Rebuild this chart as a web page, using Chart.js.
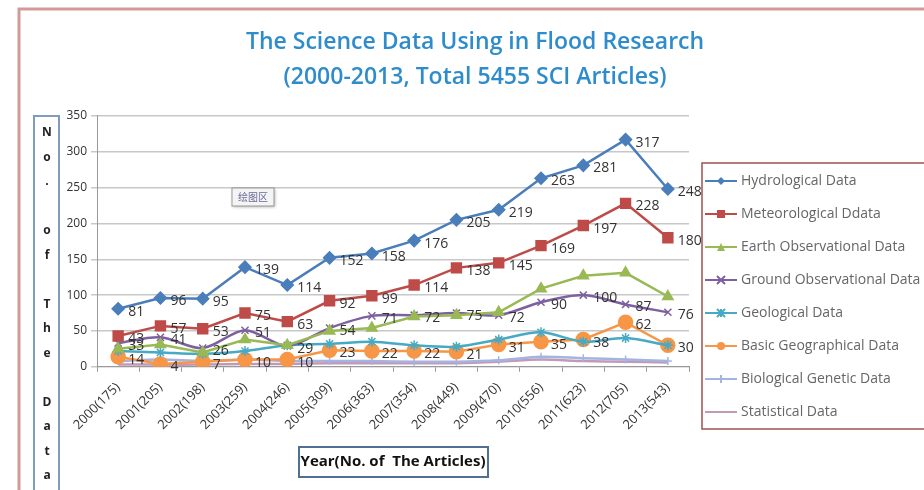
<!DOCTYPE html>
<html>
<head>
<meta charset="utf-8">
<script src="https://cdn.jsdelivr.net/npm/chart.js@4"></script>
<style>
  html, body { margin: 0; padding: 0; background: #fff; }
  #wrap { width: 924px; height: 490px; }
</style>
</head>
<body>
<div id="wrap"><canvas id="flood" width="924" height="490"></canvas></div>
<script>
  const years = ['2000(175)', '2001(205)', '2002(198)', '2003(259)', '2004(246)', '2005(309)', '2006(363)',
    '2007(354)', '2008(449)', '2009(470)', '2010(556)', '2011(623)', '2012(705)', '2013(543)'];

  const hydrological = [81, 96, 95, 139, 114, 152, 158, 176, 205, 219, 263, 281, 317, 248];
  const meteorological = [43, 57, 53, 75, 63, 92, 99, 114, 138, 145, 169, 197, 228, 180];
  const earthObs = [25, 31, 20, 38, 30, 50, 54, 70, 72, 76, 109, 127, 131, 98];
  const groundObs = [33, 41, 26, 51, 29, 54, 71, 72, 75, 72, 90, 100, 87, 76];
  const geological = [22, 20, 18, 22, 30, 32, 35, 30, 28, 38, 48, 35, 40, 30];
  const basicGeo = [14, 4, 7, 10, 10, 23, 22, 22, 21, 31, 35, 38, 62, 30];
  const biological = [8, 10, 8, 10, 8, 8, 8, 7, 7, 9, 14, 12, 10, 8];
  const statistical = [3, 3, 3, 4, 4, 5, 5, 5, 5, 7, 10, 8, 7, 6];

  const yTicks = [0, 50, 100, 150, 200, 250, 300, 350];

  const font = "'Open Sans', 'Liberation Sans', sans-serif";

  // series that carry value labels in the original
  const labelled = [0, 1, 3, 5];

  function legendIcon(color, style, r) {
    const c = document.createElement('canvas');
    c.width = 32; c.height = 14;
    const g = c.getContext('2d');
    g.strokeStyle = color; g.lineWidth = 2;
    g.beginPath(); g.moveTo(0, 7); g.lineTo(32, 7); g.stroke();
    if (style) {
      g.fillStyle = color;
      g.beginPath();
      if (style === 'rectRot') { g.moveTo(16, 7 - r); g.lineTo(16 + r, 7); g.lineTo(16, 7 + r); g.lineTo(16 - r, 7); g.closePath(); g.fill(); }
      else if (style === 'rect') { g.fillRect(16 - r, 7 - r, 2 * r, 2 * r); }
      else if (style === 'triangle') { g.moveTo(16, 7 - r); g.lineTo(16 + r, 7 + r); g.lineTo(16 - r, 7 + r); g.closePath(); g.fill(); }
      else if (style === 'circle') { g.arc(16, 7, r, 0, Math.PI * 2); g.fill(); }
      else if (style === 'crossRot') { g.moveTo(16 - r, 7 - r); g.lineTo(16 + r, 7 + r); g.moveTo(16 + r, 7 - r); g.lineTo(16 - r, 7 + r); g.stroke(); }
      else if (style === 'star') { g.moveTo(16 - r, 7 - r); g.lineTo(16 + r, 7 + r); g.moveTo(16 + r, 7 - r); g.lineTo(16 - r, 7 + r); g.moveTo(16, 7 - r); g.lineTo(16, 7 + r); g.stroke(); }
      else if (style === 'cross') { g.moveTo(16, 7 - r); g.lineTo(16, 7 + r); g.stroke(); }
    }
    return c;
  }

  function series(label, data, color, style, r, tension) {
    return {
      label: label, data: data,
      borderColor: color, backgroundColor: color,
      borderWidth: 2.5,
      pointStyle: style || false, pointRadius: style ? r : 0,
      pointBorderColor: color, pointBackgroundColor: color, pointBorderWidth: 1.5,
      tension: tension || 0,
      legendIcon: legendIcon(color, style, Math.min(r, 4))
    };
  }

  const chartFrame = {
    id: 'chartFrame',
    beforeDraw(chart) {
      const g = chart.ctx;
      g.save();
      g.strokeStyle = '#d49a9a'; g.lineWidth = 3;
      g.strokeRect(19, 9, 930, 500);
      g.restore();
    },
    afterDraw(chart) {
      const g = chart.ctx;
      g.save();
      // stacked y-axis caption
      g.strokeStyle = '#7f9cbf'; g.lineWidth = 2;
      g.strokeRect(34, 116, 25, 400);
      g.fillStyle = '#222'; g.font = 'bold 12px ' + font;
      g.textAlign = 'center'; g.textBaseline = 'middle';
      'No. of The Data'.split('').forEach(function (ch, i) {
        g.fillText(ch, 47, 133 + i * 24.5);
      });
      // x-axis caption box
      const xs = chart.scales.x;
      const cx = (xs.left + xs.right) / 2;
      g.strokeStyle = '#4f6f93'; g.lineWidth = 2;
      g.strokeRect(cx - 94, 447, 189, 30);
      // legend box
      const hb = chart.legend.legendHitBoxes;
      const top = hb[0].top - 11;
      const bottom = hb[hb.length - 1].top + hb[hb.length - 1].height + 10;
      const left = hb[0].left - 6;
      g.strokeStyle = '#a05050'; g.lineWidth = 1.5;
      g.strokeRect(left, top, 930 - left, bottom - top);
      // "plot area" tag
      g.fillStyle = '#f4f4f4'; g.strokeStyle = '#999'; g.lineWidth = 1;
      g.shadowColor = 'rgba(0,0,0,0.3)'; g.shadowBlur = 3; g.shadowOffsetX = 1; g.shadowOffsetY = 1;
      g.fillRect(232, 188, 42, 18);
      g.shadowColor = 'transparent';
      g.strokeRect(232, 188, 42, 18);
      g.fillStyle = '#6a6a9a'; g.font = '10px "Noto Sans CJK SC", sans-serif';
      g.fillText('绘图区', 253, 197);
      g.restore();
    },
    afterDatasetsDraw(chart) {
      const g = chart.ctx;
      g.save();
      g.font = '14px ' + font; g.fillStyle = '#333';
      g.textAlign = 'left'; g.textBaseline = 'middle';
      labelled.forEach(function (di) {
        const meta = chart.getDatasetMeta(di);
        const ds = chart.data.datasets[di];
        meta.data.forEach(function (pt, i) {
          g.fillText(String(ds.data[i]), pt.x + 10, pt.y + 3);
        });
      });
      g.restore();
    }
  };

  new Chart(document.getElementById('flood'), {
    type: 'line',
    data: {
      labels: years,
      datasets: [
        series('Hydrological Data', hydrological, '#4a7ebb', 'rectRot', 6),
        series('Meteorological Ddata', meteorological, '#be4b48', 'rect', 7),
        series('Earth Observational Data', earthObs, '#98b954', 'triangle', 6),
        series('Ground Observational Data', groundObs, '#7d60a0', 'crossRot', 5, 0.3),
        series('Geological Data', geological, '#46aac5', 'star', 5, 0.3),
        series('Basic Geographical Data', basicGeo, '#f79646', 'circle', 7),
        series('Biological Genetic Data', biological, '#a5b3e0', 'cross', 4, 0.3),
        series('Statistical Data', statistical, '#c29ab8', null, 0, 0.3)
      ]
    },
    options: {
      responsive: false,
      animation: false,
      layout: { padding: { left: 26, right: 0, top: 0, bottom: 19 } },
      plugins: {
        title: {
          display: true,
          text: ['The Science Data Using in Flood Research', '(2000-2013, Total 5455 SCI Articles)'],
          color: '#2f8ccc',
          font: { family: font, size: 23, weight: '600', lineHeight: 1.52 },
          padding: { top: 25, bottom: 21 }
        },
        legend: {
          position: 'right',
          align: 'start',
          maxWidth: 235,
          title: { display: true, text: ' ', font: { size: 10 }, padding: { top: 143, bottom: 0 } },
          labels: {
            usePointStyle: true,
            pointStyleWidth: 26,
            padding: 19,
            color: '#333',
            font: { family: font, size: 14 },
            generateLabels(chart) {
              return chart.data.datasets.map(function (ds, i) {
                return { text: ds.label, pointStyle: ds.legendIcon, fillStyle: ds.borderColor,
                  strokeStyle: ds.borderColor, lineWidth: 0, datasetIndex: i, hidden: false };
              });
            }
          }
        },
        tooltip: { enabled: false }
      },
      scales: {
        x: {
          offset: true,
          grid: { display: true, drawOnChartArea: false, offset: true, tickLength: 5, color: '#999' },
          border: { color: '#999' },
          ticks: { color: '#333', font: { family: font, size: 13 }, padding: 8,
            minRotation: 45, maxRotation: 45, autoSkip: false },
          title: {
            display: true, text: 'Year(No. of  The Articles)', color: '#111',
            font: { family: font, size: 15, weight: 'bold' }, padding: { top: 12, bottom: 0 }
          }
        },
        y: {
          min: yTicks[0], max: yTicks[yTicks.length - 1],
          afterBuildTicks(axis) { axis.ticks = yTicks.map(function (v) { return { value: v }; }); },
          afterFit(axis) { axis.width = 71; },
          grid: { color: '#c8c8c8', lineWidth: 1.5, tickLength: 6 },
          border: { color: '#999' },
          ticks: { color: '#333', font: { family: font, size: 12 }, padding: 4 }
        }
      }
    },
    plugins: [chartFrame]
  });
</script>
</body>
</html>
